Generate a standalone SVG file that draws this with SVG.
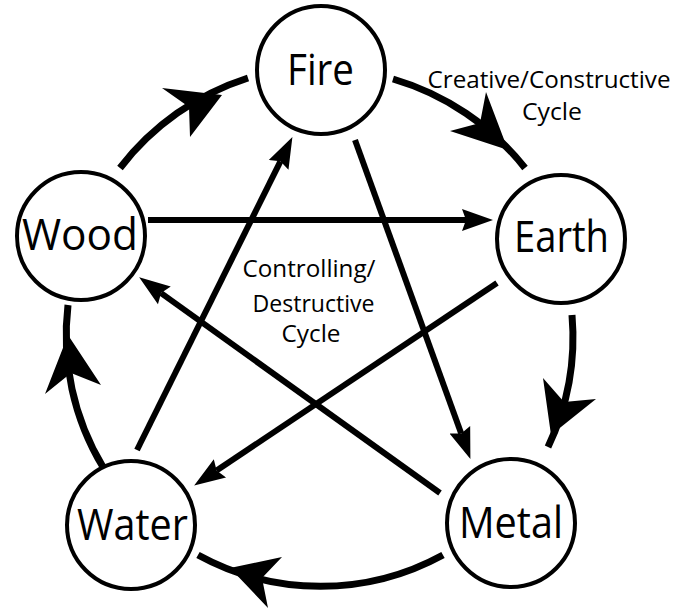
<svg xmlns="http://www.w3.org/2000/svg" width="678" height="609" viewBox="0 0 678 609">
<style>
.node circle{fill:#fff;stroke:#000;stroke-width:4}
.big{font-family:"Open Sans","Noto Sans","Liberation Sans",sans-serif;font-size:43px;fill:#000;text-anchor:middle}
.small{font-family:"Open Sans","Noto Sans","Liberation Sans",sans-serif;font-size:24px;fill:#000;text-anchor:middle}
.arc{fill:none;stroke:#000;stroke-width:7}
.star{fill:none;stroke:#000;stroke-width:6;marker-end:url(#ah)}
.head{fill:#000}
</style>
<defs>
<marker id="ah" markerUnits="userSpaceOnUse" markerWidth="40" markerHeight="30" refX="4" refY="15" orient="auto" viewBox="0 0 40 30">
<path d="M0,4 L31,15 L0,26 L4,15 z" fill="#000"/>
</marker>
</defs>
<g id="connectors">
<path class="arc" d="M120,168 A262,262 0 0,1 248,78"/>
<path class="arc" d="M393,79 A262,262 0 0,1 525,168"/>
<path class="arc" d="M572,315 A255,255 0 0,1 548,447"/>
<path class="arc" d="M443,555 A255,255 0 0,1 198,555"/>
<path class="arc" d="M103,467 A255,255 0 0,1 68,305"/>
<polygon class="head" points="222,95 162,88 189,107 190,137"/>
<polygon class="head" points="508,150 486,92 480,123 450,131"/>
<polygon class="head" points="551,435 596,399 564,402 543,378"/>
<polygon class="head" points="230,568 282,557 262,578 268,608"/>
<polygon class="head" points="68,335 45,394 71,373 101,385"/>
<line class="star" x1="148" y1="220" x2="466" y2="220"/>
<line class="star" x1="355" y1="140" x2="461.2" y2="433.6"/>
<line class="star" x1="440" y1="493" x2="161.1" y2="293.1"/>
<line class="star" x1="497" y1="283" x2="216.6" y2="470.5"/>
<line class="star" x1="137" y1="450" x2="280.4" y2="161.3"/>
</g>
<g id="fire" class="node"><circle cx="321" cy="70" r="64"/><text class="big" x="320.5" y="85" textLength="67" lengthAdjust="spacingAndGlyphs">Fire</text></g>
<g id="wood" class="node"><circle cx="81" cy="236" r="64"/><text class="big" x="80" y="250" textLength="116" lengthAdjust="spacingAndGlyphs">Wood</text></g>
<g id="earth" class="node"><circle cx="561" cy="239" r="64"/><text class="big" x="561.5" y="252" textLength="95" lengthAdjust="spacingAndGlyphs">Earth</text></g>
<g id="water" class="node"><circle cx="131" cy="525" r="64"/><text class="big" x="132.5" y="540" textLength="111" lengthAdjust="spacingAndGlyphs">Water</text></g>
<g id="metal" class="node"><circle cx="511" cy="523" r="64"/><text class="big" x="511" y="538" textLength="104" lengthAdjust="spacingAndGlyphs">Metal</text></g>
<g id="creative-label">
<text class="small" x="549" y="88" textLength="243" lengthAdjust="spacingAndGlyphs">Creative/Constructive</text>
<text class="small" x="552" y="120" textLength="60" lengthAdjust="spacingAndGlyphs">Cycle</text>
</g>
<g id="controlling-label">
<text class="small" x="309" y="277" textLength="133" lengthAdjust="spacingAndGlyphs">Controlling/</text>
<text class="small" x="313.5" y="312" textLength="122" lengthAdjust="spacingAndGlyphs">Destructive</text>
<text class="small" x="311" y="342" textLength="59" lengthAdjust="spacingAndGlyphs">Cycle</text>
</g>
</svg>
